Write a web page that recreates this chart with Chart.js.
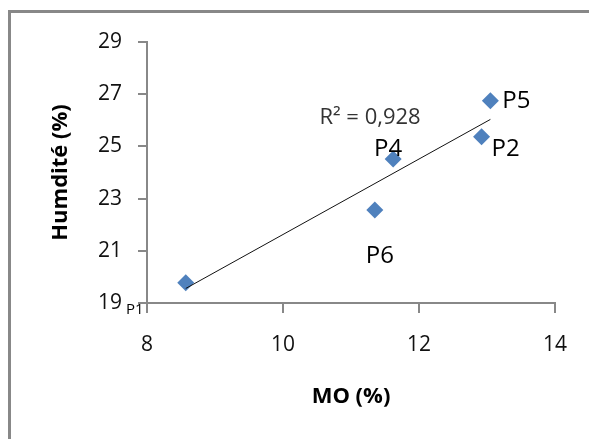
<!DOCTYPE html>
<html>
<head>
<meta charset="utf-8">
<script src="https://cdn.jsdelivr.net/npm/chart.js@4"></script>
<style>
  html, body { margin: 0; padding: 0; background: #fff; overflow: hidden; }
  #wrap { position: relative; width: 589px; height: 439px; }
  #frame { position: absolute; left: 8px; top: 10px; width: 700px; height: 600px; border: 3px solid #888; }
  canvas { position: absolute; left: 0; top: 0; }
</style>
</head>
<body>
<div id="wrap">
  <div id="frame"></div>
  <canvas id="chart" width="589" height="439"></canvas>
</div>
<script>
// Sample points
const pointNames = ['P1', 'P2', 'P4', 'P5', 'P6'];
const moValues = [8.57, 12.92, 11.62, 13.05, 11.35];
const humidityValues = [19.78, 25.37, 24.52, 26.75, 22.56];
const xTicks = [8, 10, 12, 14];
const yTicks = [19, 21, 23, 25, 27, 29];
const r2Text = 'R² = 0,928';

// label offsets (px) from each marker, and font size
const labelStyle = {
    P1: { dx: -51, dy: 27, size: 15 },
    P2: { dx: 24, dy: 12, size: 24 },
    P4: { dx: -5, dy: -10, size: 24 },
    P5: { dx: 26, dy: 0, size: 24 },
    P6: { dx: 5, dy: 46, size: 24 }
};

// least squares trendline, like the spreadsheet one
function linearFit(xs, ys) {
    const n = xs.length;
    const mx = xs.reduce((a, b) => a + b, 0) / n;
    const my = ys.reduce((a, b) => a + b, 0) / n;
    let sxy = 0, sxx = 0;
    xs.forEach((x, i) => { sxy += (x - mx) * (ys[i] - my); sxx += (x - mx) * (x - mx); });
    const slope = sxy / sxx;
    return x => my + slope * (x - mx);
}
const fit = linearFit(moValues, humidityValues);
const xMin = Math.min(...moValues), xMax = Math.max(...moValues);
const trendPoints = [{ x: xMin, y: fit(xMin) }, { x: xMax, y: fit(xMax) }];

const scatterPoints = moValues.map((x, i) => ({ x: x, y: humidityValues[i] }));

const FONT = '"Open Sans", "DejaVu Sans", sans-serif';

const labelsPlugin = {
    id: 'pointLabels',
    afterDatasetsDraw(chart) {
        const ctx = chart.ctx;
        const meta = chart.getDatasetMeta(1);
        ctx.save();
        ctx.fillStyle = '#000';
        ctx.textAlign = 'center';
        ctx.textBaseline = 'middle';
        meta.data.forEach((pt, i) => {
            const s = labelStyle[pointNames[i]];
            ctx.font = s.size + 'px ' + FONT;
            ctx.fillText(pointNames[i], pt.x + s.dx, pt.y + s.dy);
        });
        // R² annotation near the trendline
        const xs = chart.scales.x, ys = chart.scales.y;
        ctx.font = '22px ' + FONT;
        ctx.fillStyle = '#333';
        ctx.fillText(r2Text, xs.getPixelForValue(11.28), ys.getPixelForValue(26.09));
        ctx.restore();
    }
};

new Chart(document.getElementById('chart'), {
    type: 'scatter',
    data: {
        datasets: [{
            type: 'line',
            data: trendPoints,
            borderColor: '#111',
            borderWidth: 1,
            pointRadius: 0,
            fill: false
        }, {
            data: scatterPoints,
            pointStyle: 'rectRot',
            pointRadius: 8.5,
            pointBackgroundColor: '#4F81BD',
            pointBorderColor: '#4F81BD',
            pointBorderWidth: 0
        }]
    },
    options: {
        responsive: false,
        animation: false,
        layout: { padding: { top: 42, right: 34, left: 0, bottom: 0 } },
        plugins: { legend: { display: false }, tooltip: { enabled: false } },
        scales: {
            x: {
                type: 'linear',
                min: xTicks[0],
                max: xTicks[xTicks.length - 1],
                afterBuildTicks: scale => { scale.ticks = xTicks.map(v => ({ value: v })); },
                afterFit: scale => { scale.height = 136; },
                ticks: { font: { family: FONT, size: 21 }, color: '#111', padding: 19 },
                grid: { drawOnChartArea: false, drawTicks: true, tickLength: 10, color: '#888', lineWidth: 2 },
                border: { color: '#888', width: 2 },
                title: {
                    display: true, text: 'MO (%)', color: '#000',
                    font: { family: FONT, size: 22, weight: 'bold' },
                    padding: { top: 0, bottom: 29 }
                }
            },
            y: {
                type: 'linear',
                min: yTicks[0],
                max: yTicks[yTicks.length - 1],
                afterBuildTicks: scale => { scale.ticks = yTicks.map(v => ({ value: v })); },
                afterFit: scale => { scale.width = 147; },
                ticks: { font: { family: FONT, size: 21 }, color: '#111', padding: 16 },
                grid: { drawOnChartArea: false, drawTicks: true, tickLength: 9, color: '#888', lineWidth: 2 },
                border: { color: '#888', width: 2 },
                title: {
                    display: true, text: 'Humdité (%)', color: '#000',
                    font: { family: FONT, size: 22, weight: 'bold' },
                    padding: { top: 48, bottom: 0 }
                }
            }
        }
    },
    plugins: [labelsPlugin]
});
</script>
</body>
</html>
